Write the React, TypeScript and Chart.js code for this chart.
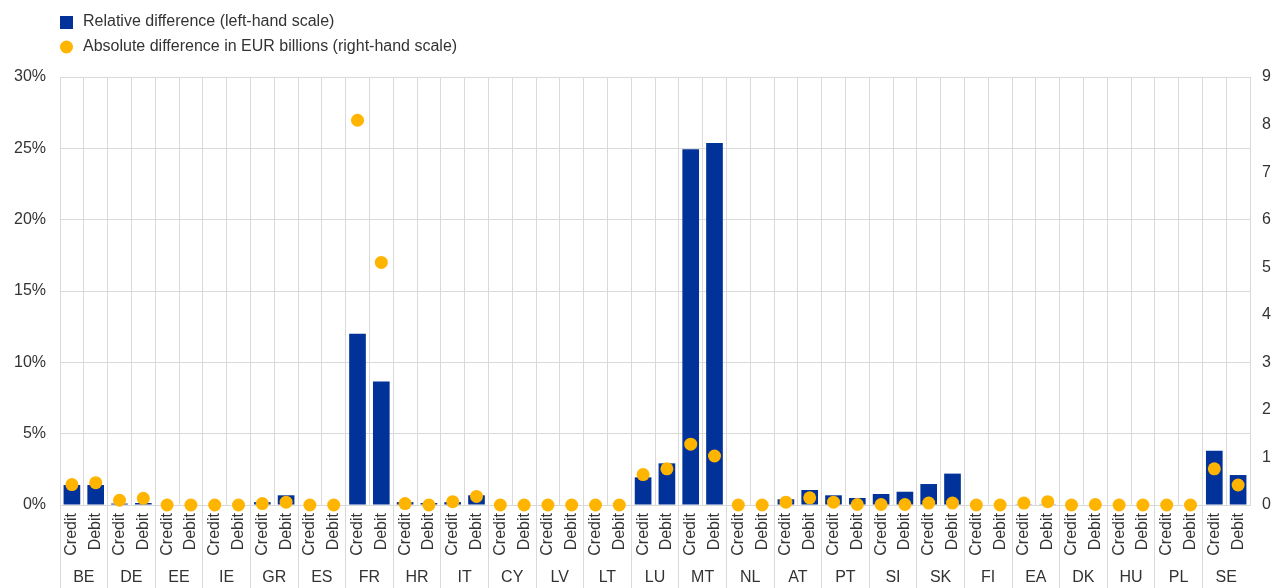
import React, { useEffect, useRef } from "react";
import { Chart, registerables } from "chart.js";

Chart.register(...registerables);

const countries = ["BE", "DE", "EE", "IE", "GR", "ES", "FR", "HR", "IT", "CY", "LV", "LT", "LU", "MT", "NL", "AT", "PT", "SI", "SK", "FI", "EA", "DK", "HU", "PL", "SE"];
const flowTypes = ["Credit", "Debit"];

// Relative difference (%), left-hand scale: [Credit, Debit] per country
const relativeDiff = [
  1.4, 1.4,   // BE
  0.1, 0.14,  // DE
  0, 0,       // EE
  0, 0,       // IE
  0.2, 0.68,  // GR
  0, 0,       // ES
  12.0, 8.65, // FR
  0.2, 0.14,  // HR
  0.2, 0.68,  // IT
  0, 0,       // CY
  0, 0,       // LV
  0, 0,       // LT
  1.94, 2.92, // LU
  24.94, 25.37, // MT
  0, 0,       // NL
  0.4, 1.05,  // AT
  0.68, 0.49, // PT
  0.77, 0.93, // SI
  1.47, 2.2,  // SK
  0, 0,       // FI
  0.05, 0.05, // EA
  0, 0,       // DK
  0, 0,       // HU
  0, 0,       // PL
  3.81, 2.1,  // SE
];

// Absolute difference in EUR billions, right-hand scale
const absoluteDiff = [
  0.43, 0.47, // BE
  0.1, 0.14,  // DE
  0, 0,       // EE
  0, 0,       // IE
  0.03, 0.06, // GR
  0, 0,       // ES
  8.09, 5.1,  // FR
  0.03, 0,    // HR
  0.07, 0.18, // IT
  0, 0,       // CY
  0, 0,       // LV
  0, 0,       // LT
  0.64, 0.76, // LU
  1.28, 1.03, // MT
  0, 0,       // NL
  0.06, 0.15, // AT
  0.06, 0.01, // PT
  0.01, 0.01, // SI
  0.04, 0.04, // SK
  0, 0,       // FI
  0.04, 0.07, // EA
  0, 0.01,    // DK
  0, 0,       // HU
  0, 0,       // PL
  0.76, 0.42, // SE
];

const seriesLabels = ["Relative difference (left-hand scale)", "Absolute difference in EUR billions (right-hand scale)"];

const BLUE = "#003299";
const YELLOW = "#FFB400";
const GRID = "#d9d9d9";
const TEXT = "#333333";
const FONT = "'Liberation Sans', Arial, sans-serif";

const xLabels: string[] = [];
countries.forEach(() => flowTypes.forEach((f) => xLabels.push(f)));

const extrasPlugin = {
  id: "extras",
  afterDraw(chart: any) {
    const ctx = chart.ctx as CanvasRenderingContext2D;
    const x = chart.scales.x;
    const area = chart.chartArea;
    const half = (x.getPixelForValue(1) - x.getPixelForValue(0)) / 2;
    ctx.save();
    ctx.strokeStyle = GRID;
    ctx.lineWidth = 1;
    ctx.fillStyle = TEXT;
    ctx.font = `16px ${FONT}`;
    ctx.textAlign = "center";
    ctx.textBaseline = "middle";
    countries.forEach((c, i) => {
      const p0 = x.getPixelForValue(2 * i);
      const p1 = x.getPixelForValue(2 * i + 1);
      const left = Math.round(p0 - half - 0.5) + 0.5;
      ctx.beginPath();
      ctx.moveTo(left, area.bottom);
      ctx.lineTo(left, chart.height);
      ctx.stroke();
      ctx.fillText(c, (p0 + p1) / 2, 578);
    });
    // legend
    ctx.textAlign = "left";
    ctx.fillStyle = BLUE;
    ctx.fillRect(60, 16, 13, 13);
    ctx.fillStyle = YELLOW;
    ctx.beginPath();
    ctx.arc(66.5, 47, 6.5, 0, Math.PI * 2);
    ctx.fill();
    ctx.fillStyle = TEXT;
    ctx.fillText(seriesLabels[0], 83, 22);
    ctx.fillText(seriesLabels[1], 83, 47);
    ctx.restore();
  },
};

export default function App() {
  const ref = useRef<HTMLCanvasElement>(null);
  useEffect(() => {
    if (!ref.current) return;
    Chart.defaults.font.family = FONT;
    Chart.defaults.font.size = 16;
    Chart.defaults.color = TEXT;
    const chart = new Chart(ref.current, {
      type: "bar",
      data: {
        labels: xLabels,
        datasets: [
          {
            type: "line",
            label: seriesLabels[1],
            data: absoluteDiff,
            yAxisID: "y1",
            showLine: false,
            clip: false,
            pointRadius: 6.5,
            pointBackgroundColor: YELLOW,
            pointBorderWidth: 0,
            borderColor: YELLOW,
            backgroundColor: YELLOW,
            order: 1,
          } as any,
          {
            type: "bar",
            label: seriesLabels[0],
            data: relativeDiff,
            yAxisID: "y",
            backgroundColor: BLUE,
            borderWidth: 0,
            barPercentage: 0.7,
            categoryPercentage: 1,
            order: 2,
          },
        ],
      },
      options: {
        responsive: false,
        animation: false,
        layout: { padding: { top: 77, left: 0, right: 0, bottom: 0 } },
        plugins: { legend: { display: false }, tooltip: { enabled: false } },
        scales: {
          x: {
            grid: { color: GRID, drawTicks: false, offset: true },
            border: { color: GRID },
            ticks: { autoSkip: false, maxRotation: 90, minRotation: 90, padding: 8, color: TEXT, font: { size: 16 } },
            afterFit: (s: any) => { s.height = 83; },
          },
          y: {
            position: "left",
            min: 0,
            max: 30,
            grid: { color: GRID, drawTicks: false },
            border: { color: GRID },
            ticks: { stepSize: 5, padding: 14, color: TEXT, callback: (v: any) => `${v}%` },
            afterFit: (s: any) => { s.width = 60; },
          },
          y1: {
            position: "right",
            min: 0,
            max: 9,
            grid: { drawOnChartArea: false, drawTicks: false },
            border: { display: false },
            ticks: { stepSize: 1, padding: 12, color: TEXT },
            afterFit: (s: any) => { s.width = 26; },
          },
        },
      },
      plugins: [extrasPlugin],
    });
    return () => chart.destroy();
  }, []);
  return (
    <canvas
      ref={ref}
      width={1276}
      height={588}
      style={{ position: "absolute", left: 0, top: 0, display: "block", width: 1276, height: 588 }}
    />
  );
}
